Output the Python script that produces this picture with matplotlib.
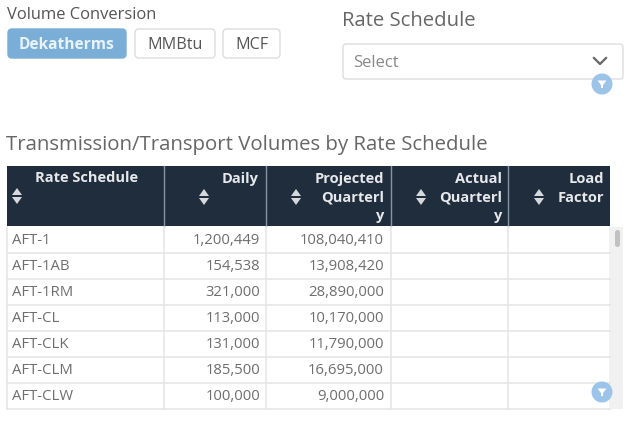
import matplotlib.pyplot as plt
from matplotlib.patches import FancyBboxPatch, Rectangle, Circle, Polygon

plt.rcParams['font.family'] = ['Open Sans', 'DejaVu Sans']

units = ["Dekatherms", "MMBtu", "MCF"]
headers = ["Rate Schedule", "Daily", "Projected\nQuarterl\ny", "Actual\nQuarterl\ny", "Load\nFactor"]
schedules = ["AFT-1", "AFT-1AB", "AFT-1RM", "AFT-CL", "AFT-CLK", "AFT-CLM", "AFT-CLW"]
daily = ["1,200,449", "154,538", "321,000", "113,000", "131,000", "185,500", "100,000"]
quarterly = ["108,040,410", "13,908,420", "28,890,000", "10,170,000", "11,790,000", "16,695,000", "9,000,000"]

# layout is all in screen pixels
colEdges = [7, 164, 266, 391, 508, 610]
headRight = [259, 384, 502, 604]
headTop = 166
headBottom = 226
bodyTop = 227
rowH = 26
navy = "#1f2d3d"
lineCol = "#e6e6e6"
badge = "#9cc4e8"
textCol = "#6e6e6e"

fig = plt.figure(figsize=(6.37, 4.37), dpi=100)
ax = fig.add_axes([0, 0, 1, 1])
ax.set_xlim(0, 637)
ax.set_ylim(437, 0)
ax.axis("off")


def button(x, y, w, h, label, selected=False):
    face = "#7aaed6" if selected else "white"
    edge = "#7aaed6" if selected else "#dddddd"
    ax.add_patch(FancyBboxPatch((x + 3, y + 3), w - 6, h - 6, boxstyle="round,pad=3,rounding_size=4",
                                fc=face, ec=edge, lw=1))
    ax.text(x + w / 2, y + h / 2 + 1.5, label, ha="center", va="center", fontsize=11.2 if selected else 11.6,
            color="#e8f3fb" if selected else "#555555", fontweight="bold" if selected else "normal")


def sortArrows(x, y):
    ax.add_patch(Polygon([(x - 5, y - 1), (x + 5, y - 1), (x, y - 8)], fc="#d5d9dd", ec="none"))
    ax.add_patch(Polygon([(x - 5, y + 1), (x + 5, y + 1), (x, y + 8)], fc="#d5d9dd", ec="none"))


def filterBadge(x, y):
    ax.add_patch(Circle((x, y), 10.5, fc=badge, ec="none", zorder=5))
    ax.add_patch(Polygon([(x - 4.5, y - 3.5), (x + 4.5, y - 3.5), (x + 1, y + 1), (x + 1, y + 4),
                          (x - 1, y + 4), (x - 1, y + 1)], fc="white", ec="none", zorder=6))


# controls at the top
ax.text(7, 15, "Volume Conversion", fontsize=11.9, color="#555555", va="center")
button(8, 29, 118, 29, units[0], True)
button(135, 29, 80, 29, units[1])
button(223, 29, 57, 29, units[2])

ax.text(342, 21, "Rate Schedule", fontsize=14.6, color="#666666", va="center")
ax.add_patch(FancyBboxPatch((346, 47), 274, 29, boxstyle="round,pad=3,rounding_size=3",
                            fc="white", ec="#dddddd", lw=1))
ax.text(353, 63, "Select", fontsize=12, color="#888888", va="center")
ax.plot([594, 600, 606], [58, 64, 58], color="#666666", lw=1.6)
filterBadge(602, 84)

ax.text(6, 145, "Transmission/Transport Volumes by Rate Schedule", fontsize=14.7, color="#666666", va="center")

# header row
ax.add_patch(Rectangle((colEdges[0], headTop), colEdges[-1] - colEdges[0], headBottom - headTop, fc=navy, ec="none"))
for i, label in enumerate(headers):
    left = colEdges[i]
    if i > 0:
        ax.plot([left, left], [headTop, headBottom], color="#8a949e", lw=1)
    if i == 0:
        ax.text(35, 178, label, fontsize=10.5, fontweight="bold", color="#e6e8ea", va="center")
        sortArrows(17, 196)
    else:
        for j, part in enumerate(label.split("\n")):
            ax.text(headRight[i - 1], 179 + j * 18.5, part, fontsize=10.5, fontweight="bold", color="#e6e8ea",
                    ha="right", va="center")
        arrowX = [204, 296, 421, 539][i - 1]
        sortArrows(arrowX, 197)

# body rows
nRows = len(schedules)
bottom = bodyTop + nRows * rowH
ax.add_patch(Rectangle((609, bodyTop), 14, bottom - bodyTop, fc="#f1f1f1", ec="none"))
ax.add_patch(FancyBboxPatch((615, 230), 5, 17, boxstyle="round,pad=0,rounding_size=2.5", fc="#c1c1c1", ec="none"))
for r in range(nRows):
    y = bodyTop + (r + 1) * rowH
    ax.plot([colEdges[0], colEdges[-1]], [y, y], color=lineCol, lw=1.2)
    mid = bodyTop + (r + 0.5) * rowH
    ax.text(12, mid, schedules[r], fontsize=10.7, color=textCol, va="center")
    ax.text(260, mid, daily[r], fontsize=10.7, color=textCol, va="center", ha="right")
    ax.text(384, mid, quarterly[r], fontsize=10.7, color=textCol, va="center", ha="right")
for x in colEdges[:-1]:
    ax.plot([x, x], [bodyTop, bottom], color=lineCol, lw=1.2)

filterBadge(602, 392)

fig.savefig("out.png", dpi=100)
